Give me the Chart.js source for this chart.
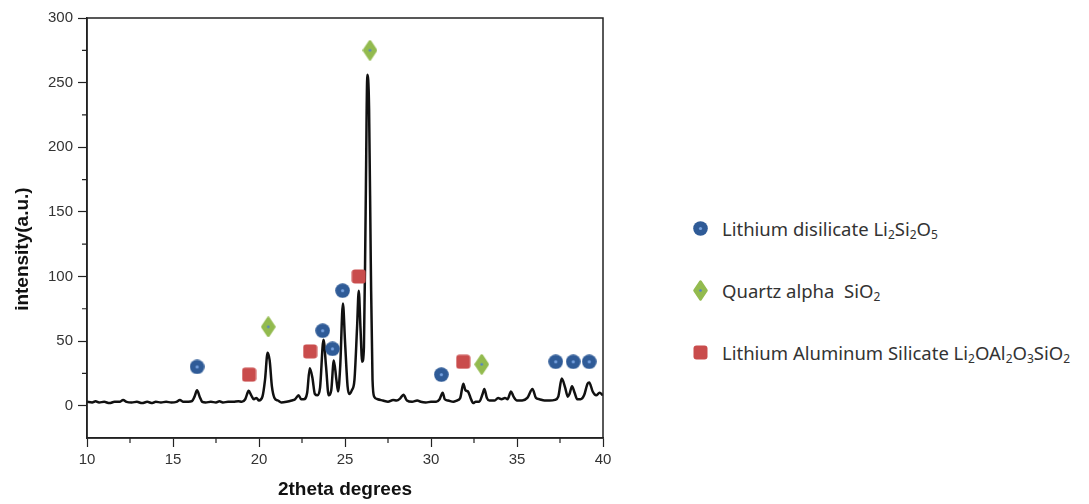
<!DOCTYPE html>
<html>
<head>
<meta charset="utf-8">
<script src="https://cdn.jsdelivr.net/npm/chart.js@4/dist/chart.umd.min.js"></script>
<style>
  body { margin: 0; background: #fff; width: 1089px; height: 504px; overflow: hidden; position: relative; }
  #xrd { position: absolute; left: 0; top: 0; }
  .legend { position: absolute; left: 693px; top: 0; font-family: "Noto Sans", sans-serif; font-size: 18.5px; color: #333; }
  .item { position: absolute; left: 0; white-space: nowrap; display: flex; align-items: center; height: 24px; }
  sub { font-size: 12px; vertical-align: -3px; line-height: 0; }
</style>
</head>
<body>
<canvas id="xrd" width="620" height="504"></canvas>
<div class="legend">
  <div class="item" id="lg0" style="top:216px"><span>Lithium disilicate Li<sub>2</sub>Si<sub>2</sub>O<sub>5</sub></span></div>
  <div class="item" id="lg1" style="top:278px"><span>Quartz alpha&nbsp;&nbsp;SiO<sub>2</sub></span></div>
  <div class="item" id="lg2" style="top:340px"><span>Lithium Aluminum Silicate Li<sub>2</sub>OAl<sub>2</sub>O<sub>3</sub>SiO<sub>2</sub></span></div>
</div>
<script>
// diffraction pattern, 2theta (deg) vs intensity (a.u.)
const twoTheta = [10.0, 10.3, 10.5, 10.7, 11.0, 11.3, 11.6, 11.9, 12.1, 12.3, 12.6, 12.9, 13.2, 13.5, 13.8, 14.0, 14.3, 14.6, 14.9, 15.2,
  15.4, 15.6, 15.9, 16.1, 16.25, 16.4, 16.55, 16.7, 16.9, 17.2, 17.5, 17.7, 17.9, 18.2, 18.5, 18.8, 19.0, 19.2, 19.4, 19.55,
  19.7, 19.85, 20.0, 20.2, 20.35, 20.5, 20.62, 20.75, 20.9, 21.1, 21.3, 21.6, 21.9, 22.1, 22.3, 22.45, 22.6, 22.8, 22.95, 23.1,
  23.25, 23.4, 23.55, 23.75, 23.9, 24.05, 24.2, 24.35, 24.5, 24.6, 24.72, 24.88, 25.0, 25.15, 25.25, 25.4, 25.55, 25.7, 25.8, 25.9,
  26.0, 26.1, 26.2, 26.3, 26.4, 26.5, 26.6, 26.7, 26.9, 27.2, 27.5, 27.8, 28.0, 28.2, 28.4, 28.6, 28.9, 29.2, 29.4, 29.7,
  30.0, 30.3, 30.5, 30.68, 30.8, 31.0, 31.3, 31.5, 31.7, 31.88, 32.0, 32.15, 32.3, 32.45, 32.6, 32.8, 33.0, 33.1, 33.25, 33.4,
  33.7, 33.9, 34.1, 34.3, 34.45, 34.65, 34.8, 35.0, 35.3, 35.6, 35.9, 36.1, 36.3, 36.6, 36.9, 37.2, 37.4, 37.6, 37.8, 37.95,
  38.05, 38.2, 38.35, 38.5, 38.7, 38.9, 39.1, 39.2, 39.4, 39.6, 39.8, 40.0];
const intensity = [3, 2.5, 3.5, 2.5, 3, 2, 3, 3, 4.5, 3, 2.5, 3, 2, 3, 2, 3, 2.5, 3, 2.5, 3,
  4.5, 3, 3, 3.5, 7, 12, 7, 3, 2.5, 3, 2.5, 3.5, 2.5, 3, 3, 3.5, 3, 5, 11.5, 8,
  5, 6, 4, 7, 20, 41, 35, 15, 6, 4, 2.5, 3, 4, 5, 8, 5, 5, 10, 29, 22,
  9, 8, 14, 51, 30, 8, 12, 35, 20, 11, 30, 79, 50, 15, 9, 12, 20, 60, 89, 60,
  34, 45, 150, 256, 230, 110, 20, 7, 5, 4, 3, 4.5, 4, 5.5, 8.5, 4, 3, 4, 3, 2.5,
  3, 3, 5, 10, 5, 4, 3, 4, 6, 17, 12, 11, 6, 2, 3, 3, 9, 13, 6, 4,
  4, 6, 5, 6, 5, 11, 7, 4, 4, 6, 13, 6, 5, 4, 4, 4.5, 7, 21, 14, 7,
  9, 15, 10, 5, 5, 8, 17, 18, 11, 8, 10, 8];

// phase identification markers
const disilicateX = [16.4, 23.7, 24.27, 24.86, 30.6, 37.25, 38.27, 39.2];
const disilicateY = [30, 58, 44, 89, 24, 34, 34, 34];
const quartzX = [20.54, 26.45, 32.95];
const quartzY = [61, 275, 32];
const aluminumX = [19.42, 22.97, 25.8, 31.87];
const aluminumY = [24, 42, 100, 34];

const xTicks = [10, 15, 20, 25, 30, 35, 40];
const yTicks = [0, 50, 100, 150, 200, 250, 300];

const BLUE = '#2f5b97';
const GREEN = '#93bb4f';
const RED = '#c94c4c';

function makeMarker(kind) {
  const c = document.createElement('canvas');
  const w = 15;
  const h = kind === 'diamond' ? 21 : 15;
  c.width = w; c.height = h;
  const g = c.getContext('2d');
  if (kind === 'circle') {
    g.fillStyle = BLUE;
    g.beginPath(); g.arc(w / 2, h / 2, 7.3, 0, Math.PI * 2); g.fill();
    g.fillStyle = '#78a4e2';
    g.beginPath(); g.arc(w / 2, h / 2, 1.6, 0, Math.PI * 2); g.fill();
  } else if (kind === 'diamond') {
    g.fillStyle = GREEN; g.strokeStyle = GREEN; g.lineJoin = 'round'; g.lineWidth = 2.5;
    g.beginPath();
    g.moveTo(w / 2, 1.5); g.lineTo(w - 1.5, h / 2); g.lineTo(w / 2, h - 1.5); g.lineTo(1.5, h / 2);
    g.closePath(); g.fill(); g.stroke();
    g.fillStyle = '#4f7fd0';
    g.beginPath(); g.arc(w / 2, h / 2, 1.3, 0, Math.PI * 2); g.fill();
  } else {
    g.fillStyle = RED;
    g.beginPath(); g.roundRect(0.5, 0.5, w - 1, h - 1, 3); g.fill();
  }
  return c;
}

const markers = { circle: makeMarker('circle'), diamond: makeMarker('diamond'), square: makeMarker('square') };

// legend swatches reuse the same marker drawings
['circle', 'diamond', 'square'].forEach((k, i) => {
  const m = makeMarker(k);
  m.style.width = m.width + 'px';
  m.style.height = m.height + 'px';
  m.style.marginRight = '14px';
  document.getElementById('lg' + i).prepend(m);
});

const toPoints = (xs, ys) => xs.map((x, i) => ({ x: x, y: ys[i] }));

// box frame and minor ticks
const framePlugin = {
  id: 'frame',
  afterDraw(chart) {
    const { ctx, chartArea: a, scales } = chart;
    ctx.save();
    ctx.strokeStyle = '#222';
    ctx.lineWidth = 1.5;
    ctx.strokeRect(a.left, a.top, a.right - a.left, a.bottom - a.top);
    ctx.lineWidth = 1.2;
    ctx.beginPath();
    for (let v = 12.5; v < 40; v += 5) {
      const px = scales.x.getPixelForValue(v);
      ctx.moveTo(px, a.bottom); ctx.lineTo(px, a.bottom + 5);
    }
    for (let v = 25; v < 300; v += 50) {
      const py = scales.y.getPixelForValue(v);
      ctx.moveTo(a.left, py); ctx.lineTo(a.left - 5, py);
    }
    ctx.stroke();
    ctx.restore();
  }
};

const tickFont = { family: '"Liberation Sans", Arial, sans-serif', size: 15 };
const titleFont = { family: '"Liberation Sans", Arial, sans-serif', size: 19, weight: 'bold' };

const ctx = document.getElementById('xrd').getContext('2d');
new Chart(ctx, {
  type: 'scatter',
  data: {
    datasets: [
      {
        label: 'Lithium disilicate',
        data: toPoints(disilicateX, disilicateY),
        pointStyle: markers.circle,
        pointRadius: 8
      },
      {
        label: 'Quartz alpha',
        data: toPoints(quartzX, quartzY),
        pointStyle: markers.diamond,
        pointRadius: 8
      },
      {
        label: 'Lithium Aluminum Silicate',
        data: toPoints(aluminumX, aluminumY),
        pointStyle: markers.square,
        pointRadius: 8
      },
      {
        label: 'XRD',
        data: toPoints(twoTheta, intensity),
        showLine: true,
        borderColor: '#111',
        borderWidth: 2.5,
        pointRadius: 0,
        cubicInterpolationMode: 'monotone'
      }
    ]
  },
  options: {
    responsive: false,
    animation: false,
    events: [],
    layout: { padding: { top: 18, right: 17, left: 0, bottom: 0 } },
    plugins: { legend: { display: false }, tooltip: { enabled: false } },
    scales: {
      x: {
        type: 'linear',
        min: 10, max: 40,
        afterBuildTicks: s => { s.ticks = xTicks.map(v => ({ value: v })); },
        afterFit: s => { s.height = 66; },
        grid: { drawOnChartArea: false, tickLength: 9, tickColor: '#222', tickWidth: 1.2 },
        border: { color: '#222', width: 1.5 },
        ticks: { color: '#333', font: tickFont, padding: 4, maxRotation: 0 },
        title: { display: true, text: '2theta degrees', color: '#111', font: titleFont, padding: { top: 0, bottom: 3 } }
      },
      y: {
        min: -25, max: 300,
        afterBuildTicks: s => { s.ticks = yTicks.map(v => ({ value: v })); },
        afterFit: s => { s.width = 87; },
        grid: { drawOnChartArea: false, tickLength: 9, tickColor: '#222', tickWidth: 1.2 },
        border: { color: '#222', width: 1.5 },
        ticks: { color: '#333', font: tickFont, padding: 5 },
        // trailing spaces push the label a little below the axis midpoint
        title: { display: true, text: 'intensity(a.u.)        ', color: '#111', font: titleFont, padding: { top: 11, bottom: 0 } }
      }
    }
  },
  plugins: [framePlugin]
});
</script>
</body>
</html>
